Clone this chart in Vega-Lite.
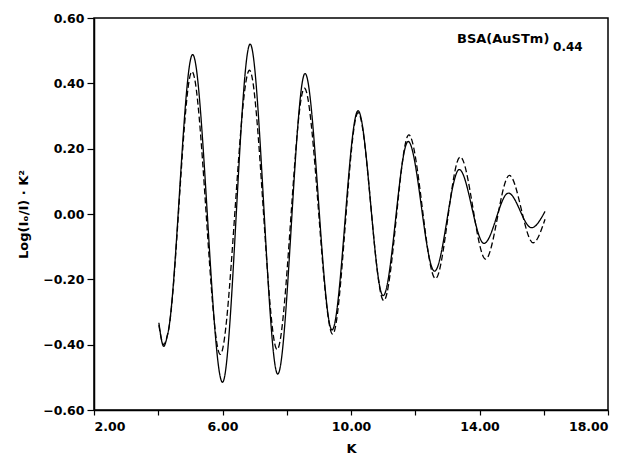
{
  "$schema": "https://vega.github.io/schema/vega-lite/v6.json",
  "width": 514,
  "height": 392,
  "autosize": {"type": "none"},
  "padding": {"left": 94, "top": 18, "right": 20, "bottom": 51},
  "background": "white",
  "config": {
    "view": {"stroke": "black", "strokeWidth": 1.5},
    "font": "DejaVu Sans",
    "axis": {
      "domainColor": "black",
      "domainWidth": 1.5,
      "tickColor": "black",
      "tickWidth": 1.2,
      "labelFont": "DejaVu Sans",
      "labelFontWeight": "bold",
      "labelFontSize": 12.5,
      "labelColor": "black",
      "titleFont": "DejaVu Sans",
      "titleFontWeight": "bold",
      "titleFontSize": 13,
      "titleColor": "black",
      "grid": false
    }
  },
  "layer": [
    {
      "data": {
        "values": [
          {"k": 4.02, "v": -0.333, "series": "solid"},
          {"k": 4.17, "v": -0.405, "series": "solid"},
          {"k": 4.30, "v": -0.365, "series": "solid"},
          {"k": 5.07, "v": 0.488, "series": "solid"},
          {"k": 6.00, "v": -0.515, "series": "solid"},
          {"k": 6.86, "v": 0.52, "series": "solid"},
          {"k": 7.72, "v": -0.49, "series": "solid"},
          {"k": 8.57, "v": 0.43, "series": "solid"},
          {"k": 9.41, "v": -0.355, "series": "solid"},
          {"k": 10.22, "v": 0.316, "series": "solid"},
          {"k": 11.00, "v": -0.25, "series": "solid"},
          {"k": 11.78, "v": 0.222, "series": "solid"},
          {"k": 12.60, "v": -0.175, "series": "solid"},
          {"k": 13.37, "v": 0.136, "series": "solid"},
          {"k": 14.14, "v": -0.09, "series": "solid"},
          {"k": 14.90, "v": 0.064, "series": "solid"},
          {"k": 15.62, "v": -0.042, "series": "solid"},
          {"k": 16.04, "v": 0.008, "series": "solid"},
          {"k": 4.02, "v": -0.34, "series": "dashed"},
          {"k": 4.17, "v": -0.40, "series": "dashed"},
          {"k": 4.30, "v": -0.365, "series": "dashed"},
          {"k": 5.05, "v": 0.436, "series": "dashed"},
          {"k": 5.93, "v": -0.43, "series": "dashed"},
          {"k": 6.84, "v": 0.44, "series": "dashed"},
          {"k": 7.70, "v": -0.415, "series": "dashed"},
          {"k": 8.55, "v": 0.385, "series": "dashed"},
          {"k": 9.43, "v": -0.368, "series": "dashed"},
          {"k": 10.22, "v": 0.31, "series": "dashed"},
          {"k": 11.02, "v": -0.265, "series": "dashed"},
          {"k": 11.80, "v": 0.242, "series": "dashed"},
          {"k": 12.63, "v": -0.198, "series": "dashed"},
          {"k": 13.40, "v": 0.175, "series": "dashed"},
          {"k": 14.19, "v": -0.138, "series": "dashed"},
          {"k": 14.93, "v": 0.118, "series": "dashed"},
          {"k": 15.67, "v": -0.088, "series": "dashed"},
          {"k": 16.04, "v": -0.016, "series": "dashed"}
        ]
      },
      "mark": {"type": "line", "interpolate": "monotone", "color": "black", "strokeWidth": 1.3},
      "encoding": {
        "x": {
          "field": "k",
          "type": "quantitative",
          "scale": {"domain": [2, 18], "nice": false, "zero": false},
          "axis": {
            "title": "K",
            "values": [2, 4, 6, 8, 10, 12, 14, 16, 18],
            "labelExpr": "(datum.value - 2) % 4 == 0 ? format(datum.value, '.2f') : ''",
            "tickSize": 5,
            "labelPadding": 5,
            "titlePadding": 10
          }
        },
        "y": {
          "field": "v",
          "type": "quantitative",
          "scale": {"domain": [-0.6, 0.6], "nice": false, "zero": false},
          "axis": {
            "title": "Log(Iₒ/I) · K²",
            "values": [-0.6, -0.4, -0.2, 0, 0.2, 0.4, 0.6],
            "format": ".2f",
            "tickSize": 7,
            "labelPadding": 3,
            "titlePadding": 12
          }
        },
        "detail": {"field": "series"},
        "strokeDash": {
          "field": "series",
          "type": "nominal",
          "scale": {"domain": ["solid", "dashed"], "range": [[1, 0], [6, 3]]},
          "legend": null
        }
      }
    },
    {
      "data": {"values": [{"label": "BSA(AuSTm)", "k": 13.3, "v": 0.5235}]},
      "mark": {"type": "text", "align": "left", "baseline": "alphabetic", "font": "DejaVu Sans", "fontWeight": "bold", "fontSize": 13, "color": "black"},
      "encoding": {
        "x": {"field": "k", "type": "quantitative"},
        "y": {"field": "v", "type": "quantitative"},
        "text": {"field": "label"}
      }
    },
    {
      "data": {"values": [{"label": "0.44", "k": 16.29, "v": 0.499}]},
      "mark": {"type": "text", "align": "left", "baseline": "alphabetic", "font": "DejaVu Sans", "fontWeight": "bold", "fontSize": 12, "color": "black"},
      "encoding": {
        "x": {"field": "k", "type": "quantitative"},
        "y": {"field": "v", "type": "quantitative"},
        "text": {"field": "label"}
      }
    }
  ]
}
